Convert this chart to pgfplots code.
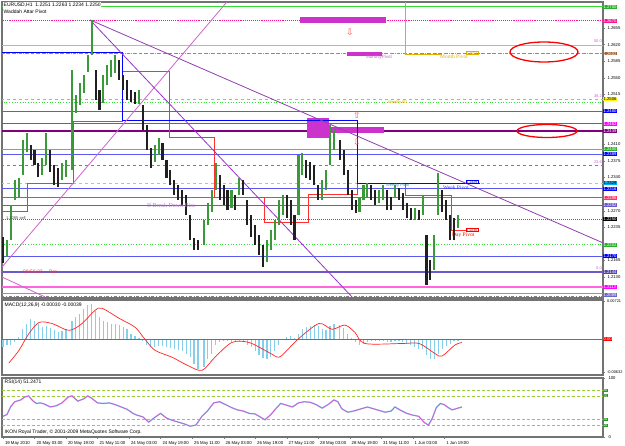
\documentclass[border=0pt]{standalone}
\usepackage{pgfplots}
\pgfplotsset{compat=1.18}
\usepackage{pgfplotstable}
\usepackage{fontspec}
\setmainfont{Liberation Sans}
\newfontfamily\serifF{Liberation Serif}
\newfontfamily\djv{DejaVu Sans}
\definecolor{upc}{HTML}{3A9A3A}
\definecolor{dnc}{HTML}{202020}
\definecolor{limeL}{HTML}{33DD33}
\definecolor{dpink}{HTML}{FF1493}
\definecolor{plumL}{HTML}{D8A0D8}
\definecolor{brownL}{HTML}{C87840}
\definecolor{orangeL}{HTML}{E0A070}
\definecolor{blueL}{HTML}{5A5AF0}
\definecolor{magL}{HTML}{FF00FF}
\definecolor{dpurp}{HTML}{800080}
\definecolor{purpD}{HTML}{A060C0}
\definecolor{cyanL}{HTML}{66E0E0}
\definecolor{crim}{HTML}{FF3366}
\definecolor{slateL}{HTML}{6A5ACD}
\definecolor{hpink}{HTML}{FF66DD}
\definecolor{yelgr}{HTML}{9ACD32}
\definecolor{skyL}{HTML}{87CEEB}
\definecolor{goldL}{HTML}{E0B000}
\definecolor{violA}{HTML}{CC66CC}
\definecolor{violB}{HTML}{9932CC}
\definecolor{violC}{HTML}{9040B0}
\definecolor{boxM}{HTML}{CC33CC}
\definecolor{stepR}{HTML}{FF3030}
\newcommand{\sz}{\fontsize{5}{6}\selectfont}
\newcommand{\sm}{\fontsize{4.2}{5}\selectfont}
\newcommand{\hl}[2]{\addplot[#1, forget plot] coordinates {(-1,#2) (306,#2)};}
\newcommand{\lab}[4]{\node[fill=#2, text=#3, anchor=west, inner sep=0.4pt, font=\sm] at (axis cs:304.6,#1) {#4};}

\pgfplotstableread{
i lo hi
2 1.2172 1.2208
4 1.2208 1.2282
6 1.2292 1.2335
8 1.2299 1.2339
10 1.2345 1.2419
12 1.2394 1.2434
20 1.2345 1.2381
22 1.2366 1.2434
30 1.2335 1.2370
32 1.2341 1.2377
35 1.2356 1.2566
37 1.2476 1.2514
39 1.2493 1.2539
41 1.2518 1.2556
43 1.2562 1.2598
45 1.2598 1.2672
51 1.2497 1.2556
53 1.2535 1.2577
55 1.2552 1.2588
57 1.2560 1.2598
69 1.2495 1.2524
77 1.2373 1.2408
79 1.2387 1.2423
102 1.2198 1.2250
104 1.2240 1.2286
106 1.2267 1.2314
108 1.2314 1.2370
116 1.2276 1.2314
120 1.2303 1.2339
134 1.2162 1.2208
136 1.2187 1.2229
138 1.2208 1.2250
140 1.2240 1.2292
142 1.2261 1.2303
150 1.2261 1.2387
152 1.2345 1.2392
162 1.2292 1.2335
164 1.2314 1.2356
166 1.2366 1.2451
168 1.2398 1.2440
181 1.2267 1.2297
183 1.2292 1.2324
185 1.2297 1.2328
191 1.2286 1.2314
193 1.2292 1.2324
199 1.2297 1.2324
209 1.2250 1.2276
213 1.2261 1.2303
219 1.2145 1.2219
221 1.2261 1.2349
231 1.2233 1.2261
}\upT

\pgfplotstableread{
i lo hi
0 1.2160 1.2214
14 1.2377 1.2408
16 1.2366 1.2398
18 1.2341 1.2370
24 1.2351 1.2398
26 1.2324 1.2366
28 1.2320 1.2360
47 1.2503 1.2566
49 1.2482 1.2524
59 1.2545 1.2588
61 1.2524 1.2556
63 1.2503 1.2545
65 1.2499 1.2524
67 1.2495 1.2520
71 1.2440 1.2493
73 1.2398 1.2451
75 1.2360 1.2402
81 1.2377 1.2413
83 1.2339 1.2377
85 1.2324 1.2356
87 1.2303 1.2335
89 1.2292 1.2324
91 1.2282 1.2314
93 1.2261 1.2303
95 1.2208 1.2261
97 1.2187 1.2212
99 1.2187 1.2208
110 1.2292 1.2345
112 1.2282 1.2324
114 1.2271 1.2314
118 1.2271 1.2303
122 1.2303 1.2335
124 1.2240 1.2292
126 1.2214 1.2261
128 1.2198 1.2240
130 1.2177 1.2219
132 1.2151 1.2198
144 1.2254 1.2303
146 1.2240 1.2292
148 1.2208 1.2261
154 1.2339 1.2377
156 1.2335 1.2373
158 1.2324 1.2366
160 1.2292 1.2324
171 1.2377 1.2419
173 1.2345 1.2398
175 1.2303 1.2356
177 1.2271 1.2314
179 1.2265 1.2292
187 1.2292 1.2324
189 1.2282 1.2314
195 1.2271 1.2314
197 1.2271 1.2299
201 1.2292 1.2318
203 1.2271 1.2307
205 1.2254 1.2286
207 1.2250 1.2276
211 1.2250 1.2271
215 1.2113 1.2219
217 1.2124 1.2166
223 1.2267 1.2314
225 1.2250 1.2292
227 1.2208 1.2261
229 1.2208 1.2254
}\dnT

\pgfplotstableread{
i h
0 -0.0015
2 -0.0011
4 -0.0010
6 -0.0006
8 0.0004
10 0.0019
12 0.0030
14 0.0038
16 0.0034
18 0.0029
20 0.0023
22 0.0025
24 0.0021
26 0.0017
28 0.0013
30 0.0015
32 0.0019
35 0.0034
37 0.0042
39 0.0048
41 0.0057
43 0.0065
45 0.0068
47 0.0053
49 0.0042
51 0.0034
53 0.0032
55 0.0030
57 0.0030
59 0.0027
61 0.0023
63 0.0019
65 0.0011
67 0.0006
69 0.0002
71 -0.0004
73 -0.0010
75 -0.0015
77 -0.0015
79 -0.0013
81 -0.0013
83 -0.0015
85 -0.0017
87 -0.0019
89 -0.0021
91 -0.0023
93 -0.0027
95 -0.0034
97 -0.0046
99 -0.0057
102 -0.0053
104 -0.0038
106 -0.0027
108 -0.0011
110 -0.0006
112 -0.0004
114 -0.0004
116 -0.0006
118 -0.0004
120 -0.0004
122 -0.0006
124 -0.0011
126 -0.0015
128 -0.0023
130 -0.0030
132 -0.0036
134 -0.0038
136 -0.0034
138 -0.0023
140 -0.0011
142 -0.0002
144 0.0004
146 0.0006
148 0.0002
150 0.0011
152 0.0019
154 0.0023
156 0.0025
158 0.0027
160 0.0025
162 0.0019
164 0.0017
166 0.0025
168 0.0029
171 0.0027
173 0.0021
175 0.0011
177 0.0002
179 -0.0006
181 -0.0010
183 -0.0008
185 -0.0006
187 -0.0004
189 -0.0004
191 -0.0004
193 -0.0004
195 -0.0006
197 -0.0006
199 -0.0004
201 -0.0004
203 -0.0006
205 -0.0008
207 -0.0011
209 -0.0015
211 -0.0019
213 -0.0019
215 -0.0029
217 -0.0038
219 -0.0038
221 -0.0027
223 -0.0019
225 -0.0013
227 -0.0008
229 -0.0004
231 -0.0004
}\histT

\pgfplotstableread{
i s
3 -0.0045
8.1 -0.0021
13 0.0010
18.3 0.0032
24.9 0.0030
33.5 0.0017
40.1 0.0030
46.7 0.0055
50.3 0.0059
58.9 0.0040
67.0 0.0023
72.1 0.0000
77.2 -0.0021
85.8 -0.0034
93.4 -0.0049
101.0 -0.0059
107.6 -0.0034
116.2 -0.0006
124.9 -0.0006
135.0 -0.0025
140.1 -0.0034
145.2 -0.0017
150.3 0.0002
160.4 0.0030
167.0 0.0019
173.6 0.0027
178.7 0.0013
183.8 -0.0008
202.5 -0.0008
211.2 -0.0008
219.3 -0.0027
222.8 -0.0032
229.4 -0.0011
233.0 -0.0006
}\sigT

\pgfplotstableread{
i r
0 35
2 38
4 52
6 60
9 63
11 68
13 70
15 62
17 57
19 58
21 56
24 51
27 53
30 58
33 68
35 70
38 61
41 65
43 70
45 66
48 58
51 57
54 58
57 55
60 51
63 47
66 40
68 37
71 34
74 25
77 33
80 40
83 32
86 28
89 25
92 22
95 18
98 20
101 35
104 45
107 58
110 60
113 55
116 50
119 46
122 44
125 40
128 39
131 33
133 29
136 38
139 50
141 57
144 54
147 51
150 58
153 60
156 59
159 55
162 49
165 55
168 63
170 60
172 48
175 42
178 44
182 48
185 51
188 48
191 45
194 42
197 44
199 51
202 45
205 40
208 37
211 35
214 24
216 20
218 32
220 50
222 57
224 55
226 50
228 46
230 48
233 51
}\rsiT

\begin{document}
\begin{tikzpicture}
\useasboundingbox (0pt,0pt) rectangle (625pt,446pt);
\fill[white] (0pt,0pt) rectangle (625pt,446pt);

% ===== main price panel =====
\begin{axis}[
  at={(2pt,148pt)}, anchor=south west, scale only axis,
  width=601pt, height=296pt,
  xmin=-0.5, xmax=304.6, ymin=1.20858, ymax=1.27098,
  clip mode=individual,
  axis line style={draw=black!55, line width=1.2pt},
  xtick=\empty,
  ytick={1.2130,1.2165,1.2235,1.2270,1.2340,1.2375,1.2410,1.2515,1.2550,1.2585,1.2620,1.2655},
  ytick pos=right, yticklabel pos=right, tick align=outside, major tick length=2pt,
  yticklabel style={font=\sm, xshift=-1pt, /pgf/number format/.cd, fixed, fixed zerofill, precision=4, assume math mode=true},
  scaled y ticks=false,
]
% horizontal levels
\hl{limeL, line width=0.8pt}{1.2700}
\hl{dpink, line width=1.1pt, densely dotted}{1.2670}
\hl{plumL, line width=0.6pt}{1.2619}
\hl{limeL, line width=0.7pt, dotted}{1.2601}
\hl{brownL, line width=0.7pt, dashed}{1.2601}
\hl{orangeL, line width=0.7pt, dashed}{1.2505}
\hl{limeL, line width=0.7pt, dotted}{1.2499}
\hl{blueL, line width=0.6pt}{1.2480}
\hl{magL, line width=1pt}{1.2453}
\hl{dpurp, line width=1.4pt}{1.2438}
\hl{limeL, line width=0.8pt}{1.2400}
\hl{blueL, line width=0.6pt}{1.2389}
\hl{purpD, line width=0.6pt, dashed}{1.2366}
\hl{cyanL, line width=0.7pt, dashed}{1.2328}
\hl{blueL, line width=0.6pt}{1.2316}
\hl{crim, line width=1pt}{1.2297}
\hl{slateL, line width=0.6pt}{1.2282}
\hl{magL, line width=1pt, densely dotted}{1.2252}
\hl{limeL, line width=0.7pt, dotted}{1.2198}
\hl{blueL, line width=0.6pt}{1.2174}
\hl{slateL, line width=1.4pt}{1.2141}
\hl{hpink, line width=1.6pt}{1.2109}
\hl{limeL, line width=0.6pt}{1.2096}
\hl{gray, line width=0.5pt, dash dot}{1.2090}

% magenta boxes
\addplot[fill=boxM, draw=none, forget plot] coordinates {(150.8,1.2666) (194.4,1.2666) (194.4,1.2678) (150.8,1.2678)} --cycle;
\addplot[fill=boxM, draw=none, forget plot] coordinates {(174.6,1.2596) (192.4,1.2596) (192.4,1.2604) (174.6,1.2604)} --cycle;
\addplot[fill=boxM, draw=none, forget plot] coordinates {(154.3,1.2423) (165.5,1.2423) (165.5,1.2465) (154.3,1.2465)} --cycle;
\addplot[fill=boxM, draw=none, forget plot] coordinates {(165.5,1.2434) (193.4,1.2434) (193.4,1.2446) (165.5,1.2446)} --cycle;

% pivot step lines
\addplot[stepR, line width=0.9pt, forget plot] coordinates {(-0.5,1.2269) (12.2,1.2269) (12.2,1.2328) (36.0,1.2328) (36.0,1.2459) (60.4,1.2459) (60.4,1.2564) (84.3,1.2564) (84.3,1.2425) (107.6,1.2425) (107.6,1.2297) (132.5,1.2297) (132.5,1.2246) (155.3,1.2246) (155.3,1.2305) (179.7,1.2305) (179.7,1.2328) (204.1,1.2328) (204.1,1.2301) (227.9,1.2301) (227.9,1.2229) (238.1,1.2229)};
\addplot[blue, line width=0.9pt, forget plot] coordinates {(-0.5,1.2604) (60.4,1.2604) (60.4,1.2461) (179.7,1.2461) (179.7,1.2328) (242.1,1.2328)};
\addplot[goldL, line width=0.7pt, forget plot] coordinates {(204.1,1.2710) (204.1,1.2600) (222.8,1.2600)};

% trend lines
\addplot[violA, line width=0.8pt, forget plot] coordinates {(-0.5,1.2151) (113.7,1.2710)};
\addplot[violB, line width=0.8pt, forget plot] coordinates {(44.2,1.2672) (177.2,1.2088)};
\addplot[violC, line width=0.8pt, forget plot] coordinates {(44.2,1.2672) (304.6,1.2202)};
\addplot[violA, line width=0.8pt, forget plot] coordinates {(-0.5,1.2130) (21.3,1.2088)};

% candles (high-low ranges)
\addplot[draw=none, mark=none, forget plot, error bars/.cd, y dir=plus, y explicit, error mark=none, error bar style={draw=upc, line width=2.1pt}] table[x=i, y=lo, y error expr=\thisrow{hi}-\thisrow{lo}] {\upT};
\addplot[draw=none, mark=none, forget plot, error bars/.cd, y dir=plus, y explicit, error mark=none, error bar style={draw=dnc, line width=2.1pt}] table[x=i, y=lo, y error expr=\thisrow{hi}-\thisrow{lo}] {\dnT};

% right labels
\lab{1.2700}{limeL!80!black}{white}{1.2700}
\lab{1.2670}{dpink}{white}{1.2670}
\lab{1.2601}{brownL!80!black}{white}{1.2602}
\lab{1.2505}{yellow}{black}{1.2506}
\lab{1.2480}{blue}{white}{1.2480}
\lab{1.2453}{magL}{white}{1.2462}
\lab{1.2438}{dpurp}{white}{1.2439}
\lab{1.2400}{limeL!80!black}{white}{1.2400}
\lab{1.2389}{blue}{white}{1.2389}
\lab{1.2328}{cyan}{black}{1.2329}
\lab{1.2316}{blue}{white}{1.2316}
\lab{1.2297}{crim}{white}{1.2296}
\lab{1.2282}{slateL}{white}{1.2282}
\lab{1.2252}{black}{white}{1.2250}
\lab{1.2198}{limeL!80!black}{white}{1.2202}
\lab{1.2174}{blue}{white}{1.2170}
\lab{1.2141}{slateL!80!black}{white}{1.2144}
\lab{1.2109}{magL}{white}{1.2112}
\lab{1.2092}{blueL!60!gray}{white}{1.2089}
\end{axis}

% ===== MACD panel =====
\begin{axis}[
  at={(2pt,71pt)}, anchor=south west, scale only axis,
  width=601pt, height=75pt,
  xmin=-0.5, xmax=304.6, ymin=-0.00678, ymax=0.00747,
  clip mode=individual,
  axis line style={draw=black!55, line width=1.2pt},
  xtick=\empty, scaled y ticks=false,
  ytick={-0.00632,0.00721}, yticklabels={-0.00632,0.00721},
  ytick pos=right, yticklabel pos=right, tick align=outside, major tick length=2pt,
  yticklabel style={font=\fontsize{3.9}{4.5}\selectfont, xshift=-1.5pt},
]
\addplot[ycomb, color=skyL, line width=1.2pt, forget plot] table[x=i, y=h] {\histT};
\addplot[red!80, line width=0.6pt, forget plot] coordinates {(-0.5,0) (304.6,0)};
\addplot[red!85, line width=0.7pt, smooth, forget plot] table[x=i, y=s] {\sigT};
\node[fill=red, text=white, anchor=west, inner sep=0.4pt, font=\sm] at (axis cs:304.6,0) {0.00};
\end{axis}

% ===== RSI panel =====
\begin{axis}[
  at={(2pt,9pt)}, anchor=south west, scale only axis,
  width=601pt, height=59pt,
  xmin=-0.5, xmax=304.6, ymin=-0.5, ymax=100.7,
  clip mode=individual,
  axis line style={draw=black!55, line width=1.2pt},
  ytick={0,100}, yticklabels={0,100},
  ytick pos=right, yticklabel pos=right, tick align=outside, major tick length=2pt,
  yticklabel style={font=\sm},
  xtick={0,16,32,48,64,80,96,112,128,144,160,176,192,208,224},
  xticklabels={19 May 2010,20 May 03:00,20 May 19:00,21 May 11:00,24 May 03:00,24 May 19:00,25 May 11:00,26 May 03:00,26 May 19:00,27 May 11:00,28 May 03:00,28 May 19:00,31 May 11:00,1 Jun 03:00,1 Jun 19:00},
  xtick pos=bottom,
  xticklabel style={font=\fontsize{4.3}{5}\selectfont, anchor=north west, xshift=-1.5pt, yshift=1pt},
]
\addplot[yelgr, line width=0.6pt, densely dashed, forget plot] coordinates {(-0.5,80) (304.6,80)};
\addplot[yelgr, line width=0.6pt, densely dashed, forget plot] coordinates {(-0.5,70) (304.6,70)};
\addplot[yelgr, line width=0.6pt, densely dashed, forget plot] coordinates {(-0.5,30) (304.6,30)};
\addplot[yelgr, line width=0.6pt, densely dashed, forget plot] coordinates {(-0.5,20) (304.6,20)};
\addplot[skyL, line width=1.4pt, forget plot] table[x=i, y=r] {\rsiT};
\addplot[violA!80!magenta, line width=0.7pt, forget plot] table[x=i, y=r] {\rsiT};
\node[fill=limeL!70!black, text=white, anchor=west, inner sep=0.3pt, font=\fontsize{3.5}{4}\selectfont] at (axis cs:304.6,80) {80};
\node[fill=limeL!70!black, text=white, anchor=west, inner sep=0.3pt, font=\fontsize{3.5}{4}\selectfont] at (axis cs:304.6,70) {70};
\node[fill=limeL!70!black, text=white, anchor=west, inner sep=0.3pt, font=\fontsize{3.5}{4}\selectfont] at (axis cs:304.6,30) {30};
\node[fill=limeL!70!black, text=white, anchor=west, inner sep=0.3pt, font=\fontsize{3.5}{4}\selectfont] at (axis cs:304.6,20) {20};
\end{axis}

% ===== texts and annotations =====
\node[anchor=west, font=\sz, fill=white, inner sep=0.5pt] at (3pt,441pt) {EURUSD,H1 \ 1.2251 1.2263 1.2234 1.2250};
\node[anchor=west, font=\sz, inner sep=0.5pt] at (3pt,434pt) {Waddah Attar Pivot};
\node[anchor=west, font=\sz, inner sep=0.5pt] at (4pt,141pt) {MACD(12,26,9) -0.00030 -0.00039};
\node[anchor=west, font=\sz, inner sep=0.5pt] at (4pt,64pt) {RSI(14) 51.2471};
\node[anchor=west, font=\sz, inner sep=0.5pt] at (4pt,14pt) {IKON Royal Trader, © 2001-2009 MetaQuotes Software Corp.};

\node[anchor=west, font=\serifF\fontsize{6}{7}\selectfont, text=violC!70, inner sep=0pt] at (147pt,241pt) {If Break Down Bias};
\node[anchor=west, font=\fontsize{4}{5}\selectfont, text=black!70, inner sep=0pt] at (6pt,228pt) {1.2285 sell};
\node[anchor=west, font=\fontsize{5}{6}\selectfont, text=red!80, inner sep=0pt] at (23pt,174pt) {00:56:33 \quad Bar};
\node[anchor=west, font=\fontsize{4}{5}\selectfont, text=goldL, inner sep=0pt] at (388pt,344pt) {Weekly R1};
\node[anchor=west, font=\fontsize{4.5}{5}\selectfont, text=violA, inner sep=0pt] at (366pt,389pt) {MonthlyPivot};
\node[anchor=west, font=\serifF\fontsize{5.5}{6}\selectfont, text=goldL, inner sep=0pt] at (440pt,389pt) {Month Pivot};
\node[anchor=west, draw=goldL, font=\fontsize{3.5}{4}\selectfont, text=goldL, inner sep=0.4pt] at (466pt,393pt) {1.2602};
\node[anchor=west, font=\fontsize{4}{5}\selectfont, text=cyan!80!black, inner sep=0pt] at (386pt,261pt) {Weekly Pivot};
\node[anchor=west, font=\serifF\fontsize{5.5}{6}\selectfont, text=blue!80, inner sep=0pt] at (443pt,258pt) {Week Pivot};
\node[anchor=west, draw=blue, font=\fontsize{3.5}{4}\selectfont, text=blue, fill=white, inner sep=0.4pt] at (466pt,264pt) {1.2329};
\node[anchor=west, font=\serifF\fontsize{5.5}{6}\selectfont, text=red, inner sep=0pt] at (452pt,211pt) {Day Pivot};
\node[anchor=west, draw=red, font=\fontsize{3.5}{4}\selectfont, text=red, fill=white, inner sep=0.4pt] at (466pt,216pt) {1.2236};
\node[anchor=east, font=\fontsize{4}{5}\selectfont, text=violA, inner sep=0pt] at (602pt,405pt) {50.0};
\node[anchor=east, font=\fontsize{4}{5}\selectfont, text=violA, inner sep=0pt] at (602pt,350pt) {38.2};
\node[anchor=east, font=\fontsize{4}{5}\selectfont, text=violA, inner sep=0pt] at (602pt,284pt) {23.6};
\node[anchor=east, font=\fontsize{4}{5}\selectfont, text=violA, inner sep=0pt] at (602pt,178pt) {0.0};
\node[font=\djv\fontsize{9}{9}\selectfont, text=red!70, inner sep=0pt] at (350pt,414pt) {⇩};
\node[font=\djv\fontsize{9}{9}\selectfont, text=red!70, inner sep=0pt] at (357pt,331pt) {⇧};
\node[font=\djv\fontsize{9}{9}\selectfont, text=red!70, inner sep=0pt] at (357pt,304pt) {⇩};
\draw[red, line width=1.3pt] (544pt,394pt) ellipse [x radius=34pt, y radius=10pt];
\draw[red, line width=1.3pt] (547pt,315pt) ellipse [x radius=30pt, y radius=6.5pt];
\end{tikzpicture}
\end{document}
